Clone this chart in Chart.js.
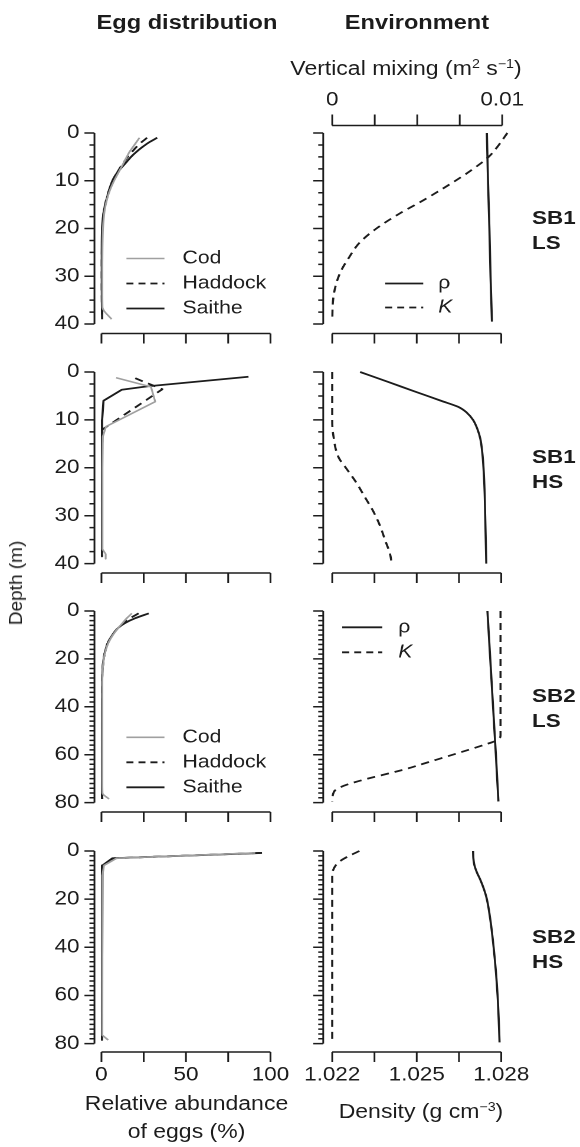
<!DOCTYPE html>
<html lang="en">
<head>
<meta charset="UTF-8">
<meta name="viewport" content="width=device-width, initial-scale=1.0">
<title>Egg distribution and environment</title>
<script src="https://cdn.jsdelivr.net/npm/chart.js"></script>
<style>
  body { margin: 0; background: #fff; }
  /* the figure is typeset a little wide, so the whole stage is stretched */
  #stage {
    position: absolute; left: 0; top: 0;
    width: 491.5px; height: 1147px;
    transform: scaleX(1.18); transform-origin: 0 0;
    font-family: 'Liberation Sans', Arial, Helvetica, sans-serif; color: #1c1c1c;
  }
  #stage canvas { position: absolute; }
  .txt { position: absolute; white-space: nowrap; line-height: 1; font-size: 19.5px; transform: translate(-50%, -50%); }
  .ttl { font-weight: bold; font-size: 20px; }
  .row { position: absolute; white-space: nowrap; font-weight: bold; font-size: 19px; line-height: 25px; transform: translateY(-50%); }
  sup { font-size: 0.62em; vertical-align: 0.6em; line-height: 0; }
  #depth {
    position: absolute; left: 16px; top: 583px; white-space: nowrap;
    font: 19px 'Liberation Sans', Arial, sans-serif; color: #1c1c1c;
    transform: translate(-50%, -50%) rotate(-90deg);
  }
</style>
</head>
<body>
<div id="stage"></div>
<div id="depth">Depth (m)</div>

<script>
const SX = 1.18;
const INK = '#1c1c1c';
const GREY = '#a0a0a0';
const FONT = "'Liberation Sans', Arial, Helvetica, sans-serif";

// ---- tick labels ----
const eggTicks = [0, 25, 50, 75, 100];
const eggLabels = ['0', '50', '100'];
const densityTicks = [1.022, 1.0235, 1.025, 1.0265, 1.028];
const densityLabels = ['1.022', '1.025', '1.028'];
const mixingTicks = [0, 0.0025, 0.005, 0.0075, 0.01];
const mixingLabels = ['0', '0.01'];
const depthLabels40 = ['0', '10', '20', '30', '40'];
const depthLabels80 = ['0', '20', '40', '60', '80'];

// ---- egg profiles, % of eggs against depth (m) ----
// SB1 LS
const ls1Depth   = [1, 2, 3, 4, 5, 6, 7, 8, 9, 10, 12, 14, 16, 18, 20, 24, 28, 32, 36.5, 39];
const ls1Cod     = [22.5, 20.5, 18.5, 16.5, 15, 13.5, 12, 10.5, 9, 7.5, 5, 3.2, 2, 1.3, 0.9, 0.6, 0.5, 0.5, 0.6, 6];
const ls1Haddock = [27, 23.5, 20.5, 18, 15.5, 13.5, 11.5, 9.8, 8.2, 6.8, 4.5, 2.8, 1.6, 0.9, 0.5, 0.3, 0.2, 0.2, 0.3, 0.5];
const ls1Saithe  = [33, 28, 24, 20.5, 17.5, 15, 12.5, 10, 8, 6.5, 4.5, 3, 1.6, 0.8, 0.4, 0.2, 0.2, 0.2, 0.3, 0.4];
// SB1 HS
const hs1CodDepth     = [1.2, 3.1, 6.2, 11.4, 13.5, 20, 30, 37, 38, 39];
const hs1Cod          = [8.7, 29.3, 31.8, 2.7, 0.8, 0.6, 0.6, 0.6, 2.5, 2.5];
const hs1HaddockDepth = [1.3, 3.6, 12, 20, 30, 38.5];
const hs1Haddock      = [20, 36, 0.6, 0.3, 0.3, 0.3];
const hs1SaitheDepth  = [1, 3, 3.7, 6, 10, 20, 30, 38.5];
const hs1Saithe       = [87, 27, 12, 1.2, 0.4, 0.3, 0.3, 0.3];
// SB2 LS
const ls2Depth   = [1, 3, 5, 7, 10, 13, 16, 20, 25, 30, 40, 50, 60, 70, 76, 78.5];
const ls2Cod     = [18, 15, 12.5, 10, 6.8, 4.3, 2.7, 1.4, 0.7, 0.5, 0.5, 0.5, 0.5, 0.5, 0.6, 4.5];
const ls2Haddock = [22, 17, 13, 10, 6.5, 4, 2.5, 1.3, 0.6, 0.4, 0.3, 0.3, 0.3, 0.3, 0.3, 0.5];
const ls2Saithe  = [28, 20, 14, 10, 6.5, 4, 2.5, 1.3, 0.6, 0.4, 0.3, 0.3, 0.3, 0.3, 0.3, 0.4];
// SB2 HS
const hs2Depth   = [0.8, 3, 6, 10, 20, 40, 60, 76.5, 78.5];
const hs2Cod     = [91, 9, 1.5, 0.6, 0.5, 0.5, 0.5, 0.5, 4];
const hs2Haddock = [94, 7.5, 0.8, 0.4, 0.3, 0.3, 0.3, 0.3, 0.4];
const hs2Saithe  = [95, 6.5, 0.6, 0.3, 0.3, 0.3, 0.3, 0.3, 0.3];

// ---- environment: density rho (g cm-3) and vertical mixing K (m2 s-1) ----
const ls1RhoDepth = [0, 10, 20, 30, 39.5];
const ls1Rho      = [1.02749, 1.02753, 1.02758, 1.02762, 1.02767];
const ls1KDepth   = [0, 2.5, 5, 8, 11, 14, 17, 20, 23, 26, 29, 32, 35, 39.5];
const ls1K        = [0.0103, 0.0098, 0.0092, 0.0081, 0.0068, 0.0054, 0.0039, 0.0026, 0.0016, 0.001, 0.0005, 0.0002, 0.00005, 0];

const hs1RhoDepth = [0, 2, 4, 6, 7.3, 8.5, 10, 12, 14, 17, 20, 25, 30, 35, 40];
const hs1Rho      = [1.02299, 1.02395, 1.0249, 1.02586, 1.02648, 1.02678, 1.027, 1.02716, 1.02726, 1.02733, 1.02737, 1.02741, 1.02743, 1.02745, 1.02747];
const hs1KDepth   = [0, 10, 12, 14, 16, 18, 20, 23, 26, 29, 32, 35, 38, 40];
const hs1K        = [0, 0, 0.00002, 0.0001, 0.0002, 0.0004, 0.0008, 0.0014, 0.0019, 0.0024, 0.0028, 0.0031, 0.0034, 0.0035];

const ls2RhoDepth = [0, 20, 40, 60, 79.5];
const ls2Rho      = [1.02751, 1.02761, 1.02771, 1.02781, 1.0279];
const ls2KDepth   = [0, 20, 40, 52, 54, 55.5, 65, 75.5, 79.5];
const ls2K        = [0.0099, 0.0099, 0.0099, 0.0099, 0.0097, 0.0091, 0.0048, 0.0001, 0];

const hs2RhoDepth = [0, 3, 6, 9, 12, 16, 20, 30, 40, 50, 60, 70, 79.5];
const hs2Rho      = [1.027, 1.02701, 1.02705, 1.02714, 1.02726, 1.02739, 1.02749, 1.02763, 1.02773, 1.02781, 1.02787, 1.02791, 1.02794];
const hs2KDepth   = [0, 2, 4, 6, 8, 10, 79.5];
const hs2K        = [0.0016, 0.001, 0.0005, 0.0002, 0.00005, 0, 0];

// ---- layout, in picture pixels ----
// canvases are wider than the plots so edge tick labels never squeeze the plot area
const COLS = {
  eggs: { cx: 10, cw: 310, L: 95, R: 276, x0: 102, x1: 271 },
  env:  { cx: 270, cw: 290, L: 323, R: 512, x0: 332, x1: 501, k0: 332, k1: 502 }
};
const ROWS = [
  { Y0: 132.5, Y1: 323.5, dMax: 40, B: 333, step: 2.5, major: 10, labels: depthLabels40 },
  { Y0: 371.7, Y1: 563.3, dMax: 40, B: 572.7, step: 2.5, major: 10, labels: depthLabels40 },
  { Y0: 610.7, Y1: 802.3, dMax: 80, B: 811.7, step: 2, major: 20, labels: depthLabels80 },
  { Y0: 850.7, Y1: 1043.3, dMax: 80, B: 1051.7, step: 2, major: 20, labels: depthLabels80 }
];

const stage = document.getElementById('stage');
const tickFont = { family: FONT, size: 19 };

const COD     = { borderColor: GREY, borderWidth: 1.6 };
const HADDOCK = { borderColor: INK, borderWidth: 1.8, borderDash: [7, 5] };
const SAITHE  = { borderColor: INK, borderWidth: 1.8 };
const RHO     = { borderColor: INK, borderWidth: 1.8 };
const KMIX    = { borderColor: INK, borderWidth: 1.8, borderDash: [7, 5], italic: true };
const SMOOTH  = { cubicInterpolationMode: 'monotone' };
const SHARP   = { tension: 0 };

function line(label, vals, depths, style, shape, axis) {
  return Object.assign({
    label,
    data: vals.map((v, i) => ({ x: v, y: depths[i] })),
    xAxisID: axis || 'x'
  }, style, shape);
}

function span(v0, p0, v1, p1, lo, hi) {
  const k = (v1 - v0) / (p1 - p0);
  return { min: v0 + (lo - p0) * k, max: v0 + (hi - p0) * k };
}

function lab(labels) {
  return v => {
    const hit = labels.find(l => Math.abs(parseFloat(l) - v) < 1e-9);
    return hit === undefined ? '' : hit;
  };
}

// R-style axes: line only from first to last tick, ticks pointing out
const rAxes = {
  id: 'rAxes',
  afterDraw(chart) {
    const ctx = chart.ctx;
    ctx.save();
    ctx.strokeStyle = INK;
    ctx.lineWidth = 1.5;
    Object.values(chart.scales).forEach(s => {
      const r = s.rAxis;
      if (!r || !s.options.display) return;
      const px = s.ticks.map(t => s.getPixelForValue(t.value));
      ctx.beginPath();
      if (s.isHorizontal()) {
        const top = s.options.position === 'top';
        const y = top ? s.bottom : s.top;
        ctx.moveTo(px[0], y);
        ctx.lineTo(px[px.length - 1], y);
        px.forEach(x => { ctx.moveTo(x, y); ctx.lineTo(x, y + (top ? -r.len : r.len)); });
      } else {
        const x = s.right;
        ctx.moveTo(x, px[0]);
        ctx.lineTo(x, px[px.length - 1]);
        s.ticks.forEach((t, i) => {
          const q = t.value / r.major;
          const len = Math.abs(q - Math.round(q)) < 1e-6 ? r.len : r.len / 2;
          ctx.moveTo(x, px[i]);
          ctx.lineTo(x - len / SX, px[i]);
        });
      }
      ctx.stroke();
    });
    ctx.restore();
  }
};

// small legend placed inside the plot
const inLegend = {
  id: 'inLegend',
  afterDatasetsDraw(chart, args, o) {
    if (!o || o.x === undefined) return;
    const ctx = chart.ctx;
    ctx.save();
    chart.data.datasets.forEach((ds, i) => {
      const y = o.y + i * o.step;
      ctx.beginPath();
      ctx.strokeStyle = ds.borderColor;
      ctx.lineWidth = ds.borderWidth;
      ctx.setLineDash(ds.borderDash ? ds.borderDash.map(d => d / SX) : []);
      ctx.moveTo(o.x, y);
      ctx.lineTo(o.x + o.len, y);
      ctx.stroke();
      ctx.setLineDash([]);
      ctx.fillStyle = INK;
      ctx.font = (ds.italic ? 'italic ' : '') + '18px ' + FONT;
      ctx.textBaseline = 'middle';
      ctx.fillText(ds.label, o.x + o.len + o.gap, y);
    });
    ctx.restore();
  }
};

function hScale(pos, ticks, labels, range, show, size, len) {
  return {
    type: 'linear', position: pos, min: range.min, max: range.max,
    grid: { display: false, drawTicks: false }, border: { display: false },
    afterBuildTicks: s => { s.ticks = ticks.map(v => ({ value: v })); s.rAxis = { len }; },
    afterFit: s => { s.height = size; },
    ticks: { display: show, autoSkip: false, maxRotation: 0, padding: pos === 'top' ? 14 : 12,
             font: tickFont, color: INK, callback: lab(labels) }
  };
}

function vScale(row, range, show, width) {
  const vals = [];
  for (let v = 0; v <= row.dMax + 1e-9; v += row.step) vals.push(v);
  return {
    type: 'linear', position: 'left', reverse: true, min: range.min, max: range.max,
    grid: { display: false, drawTicks: false }, border: { display: false },
    afterBuildTicks: s => { s.ticks = vals.map(v => ({ value: v })); s.rAxis = { len: 10, major: row.major }; },
    afterFit: s => { s.width = width; },
    ticks: { display: show, autoSkip: false, padding: 15 / SX, font: tickFont, color: INK, callback: lab(row.labels) }
  };
}

function panel(col, row, datasets, opt) {
  const last = row === ROWS[3];
  const cy = row.Y0 - 60;
  const ch = Math.round(row.B + 45 - cy);
  const W = Math.round(col.cw / SX);
  const T = opt.top ? 125 : row.Y0 - 7;
  const padR = W - (col.R - col.cx) / SX;

  const canvas = document.createElement('canvas');
  canvas.width = W;
  canvas.height = ch;
  canvas.style.left = (col.cx / SX) + 'px';
  canvas.style.top = cy + 'px';
  canvas.style.width = W + 'px';
  canvas.style.height = ch + 'px';
  stage.appendChild(canvas);

  const yr = span(0, row.Y0, row.dMax, row.Y1, T, row.B);
  const bottomSize = cy + ch - row.B;
  const scales = {};
  if (col === COLS.eggs) {
    scales.x = hScale('bottom', eggTicks, eggLabels, span(0, col.x0, 100, col.x1, col.L, col.R), last, bottomSize, 10);
    scales.y = vScale(row, yr, true, (col.L - col.cx) / SX);
  } else {
    scales.x = hScale('bottom', densityTicks, densityLabels, span(1.022, col.x0, 1.028, col.x1, col.L, col.R), last, bottomSize, 10);
    // the mixing axis is only drawn on the first row; elsewhere it takes no room
    scales.k = hScale('top', mixingTicks, mixingLabels, span(0, col.k0, 0.01, col.k1, col.L, col.R), true, opt.top ? T - cy : 0, 11);
    scales.k.display = !!opt.top;
    scales.y = vScale(row, yr, false, (col.L - col.cx) / SX);
  }

  const lg = opt.legend;
  new Chart(canvas, {
    type: 'line',
    data: { datasets },
    options: {
      responsive: false,
      animation: false,
      events: [],
      devicePixelRatio: 2,
      indexAxis: 'y',
      layout: { padding: { left: 0, right: padR, top: opt.top ? 0 : T - cy, bottom: 0 } },
      elements: { point: { radius: 0 }, line: { borderJoinStyle: 'round' } },
      datasets: { line: { clip: false } },
      plugins: {
        legend: { display: false },
        tooltip: { enabled: false },
        inLegend: lg ? { x: (lg.x - col.cx) / SX, y: lg.y - cy, step: lg.step, len: lg.len / SX, gap: lg.gap / SX } : {}
      },
      scales
    },
    plugins: [rAxes, inLegend]
  });
}

// egg distribution column
panel(COLS.eggs, ROWS[0], [
  line('Cod', ls1Cod, ls1Depth, COD, SMOOTH),
  line('Haddock', ls1Haddock, ls1Depth, HADDOCK, SMOOTH),
  line('Saithe', ls1Saithe, ls1Depth, SAITHE, SMOOTH)
], { legend: { x: 127, y: 258, step: 25, len: 38, gap: 18 } });

panel(COLS.eggs, ROWS[1], [
  line('Cod', hs1Cod, hs1CodDepth, COD, SHARP),
  line('Haddock', hs1Haddock, hs1HaddockDepth, HADDOCK, SHARP),
  line('Saithe', hs1Saithe, hs1SaitheDepth, SAITHE, SHARP)
], {});

panel(COLS.eggs, ROWS[2], [
  line('Cod', ls2Cod, ls2Depth, COD, SMOOTH),
  line('Haddock', ls2Haddock, ls2Depth, HADDOCK, SMOOTH),
  line('Saithe', ls2Saithe, ls2Depth, SAITHE, SMOOTH)
], { legend: { x: 127, y: 737, step: 25, len: 38, gap: 18 } });

panel(COLS.eggs, ROWS[3], [
  line('Cod', hs2Cod, hs2Depth, COD, SHARP),
  line('Haddock', hs2Haddock, hs2Depth, HADDOCK, SHARP),
  line('Saithe', hs2Saithe, hs2Depth, SAITHE, SHARP)
], {});

// environment column
panel(COLS.env, ROWS[0], [
  line('ρ', ls1Rho, ls1RhoDepth, RHO, SHARP),
  line('K', ls1K, ls1KDepth, KMIX, SMOOTH, 'k')
], { top: true, legend: { x: 385, y: 283, step: 24, len: 38, gap: 15 } });

panel(COLS.env, ROWS[1], [
  line('ρ', hs1Rho, hs1RhoDepth, RHO, SMOOTH),
  line('K', hs1K, hs1KDepth, KMIX, SMOOTH, 'k')
], {});

panel(COLS.env, ROWS[2], [
  line('ρ', ls2Rho, ls2RhoDepth, RHO, SHARP),
  line('K', ls2K, ls2KDepth, KMIX, SMOOTH, 'k')
], { legend: { x: 342, y: 627, step: 25, len: 40, gap: 16 } });

panel(COLS.env, ROWS[3], [
  line('ρ', hs2Rho, hs2RhoDepth, RHO, SMOOTH),
  line('K', hs2K, hs2KDepth, KMIX, SMOOTH, 'k')
], {});

// titles and labels
function addText(html, x, y, cls) {
  const d = document.createElement('div');
  d.className = cls;
  d.innerHTML = html;
  d.style.left = (x / SX) + 'px';
  d.style.top = y + 'px';
  stage.appendChild(d);
}
addText('Egg distribution', 187, 22, 'txt ttl');
addText('Environment', 417, 22, 'txt ttl');
addText('Vertical mixing (m<sup>2</sup> s<sup>−1</sup>)', 406, 69, 'txt');
addText('Relative abundance', 186.5, 1104, 'txt');
addText('of eggs (%)', 186.5, 1132, 'txt');
addText('Density (g cm<sup>−3</sup>)', 421, 1112, 'txt');
addText('SB1<br>LS', 532, 229.5, 'row');
addText('SB1<br>HS', 532, 469, 'row');
addText('SB2<br>LS', 532, 708, 'row');
addText('SB2<br>HS', 532, 948.5, 'row');
</script>
</body>
</html>
